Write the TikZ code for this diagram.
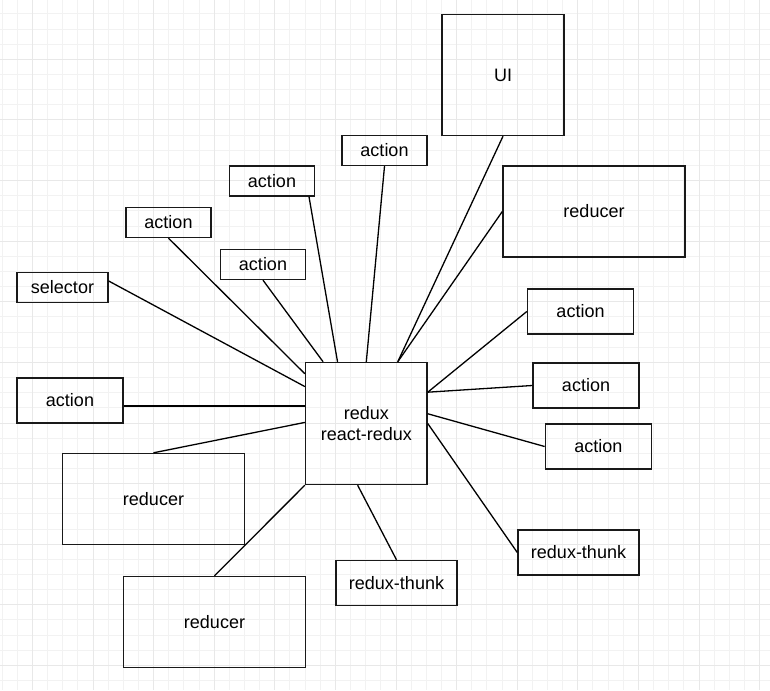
\documentclass[tikz,border=0pt]{standalone}
\usepackage{fontspec}
\setmainfont{Liberation Sans}
\begin{document}
\begin{tikzpicture}[x=1pt, y=-1pt,
        every node/.style={draw=black!90, line width=1.4pt, inner sep=0pt, font=\fontsize{18}{21.5}\selectfont},
        small/.style={minimum width=85pt, minimum height=30pt},
        wide/.style={minimum width=106pt, minimum height=45pt},
        big/.style={minimum width=182pt, minimum height=91pt},
        link/.style={black, line width=1.3pt}]

    \useasboundingbox[fill=white] (0,0) rectangle (770,690);
    % grid
    \foreach \i in {0,...,50} \draw[black!5, line width=0.8pt] ({2+15.15*\i},0) -- ({2+15.15*\i},690);
    \foreach \i in {1,...,45} \draw[black!5, line width=0.8pt] (0,{-1.3+15.15*\i}) -- (770,{-1.3+15.15*\i});
    \foreach \i in {2,6,...,50} \draw[black!9, line width=0.8pt] ({2+15.15*\i},0) -- ({2+15.15*\i},690);
    \foreach \i in {4,8,...,44} \draw[black!9, line width=0.8pt] (0,{-1.3+15.15*\i}) -- (770,{-1.3+15.15*\i});

    \node[minimum width=121.5pt, minimum height=122pt, align=center] (redux) at (366.3,423.5) {redux\\react-redux};
    \node[minimum width=122pt, minimum height=121pt] (ui) at (503,75) {UI};
    \node[small] (actA) at (384.5,150.5) {action};
    \node[small] (actB) at (272,181) {action};
    \node[small] (actC) at (168.5,222.5) {action};
    \node[small] (actD) at (263,264.5) {action};
    \node[small, minimum width=91pt] (sel) at (62.5,287.5) {selector};
    \node[big] (redR) at (594,211.5) {reducer};
    \node[wide] (actE) at (580.5,311.5) {action};
    \node[wide] (actF) at (70,400.5) {action};
    \node[wide] (actG) at (586,385.5) {action};
    \node[wide] (actH) at (598.3,446.5) {action};
    \node[big] (redL) at (153.5,499) {reducer};
    \node[big] (redB) at (214.5,622) {reducer};
    \node[wide, minimum width=121pt] (thunkR) at (578.5,552.5) {redux-thunk};
    \node[wide, minimum width=121pt] (thunkB) at (396.5,583) {redux-thunk};

    % links to the store
    \draw[link] (ui.south) -- (redux.63.5);
    \draw[link] (redR.west) -- (redux.63.5);
    \draw[link] (actA.south) -- (redux.90);
    \draw[link] (actB.-23) -- (redux.115);
    \draw[link] (actD.south) -- (redux.125);
    \draw[link] (actC.south) -- (redux.141);
    \draw[link] (sel.8) -- (redux.149);
    \draw[link] (actF.-6) -- (actF.-6 -| redux.west);
    \draw[link] (redL.north) -- (redux.179);
    \draw[link] (redB.north) -- (redux.south west);
    \draw[link] (thunkB.north) -- (redux.262.5);
    \draw[link] (thunkR.west) -- (redux.east);
    \draw[link] (actH.west) -- (redux.9);
    \draw[link] (actG.west) -- (redux.27);
    \draw[link] (actE.west) -- (redux.27);
\end{tikzpicture}
\end{document}
